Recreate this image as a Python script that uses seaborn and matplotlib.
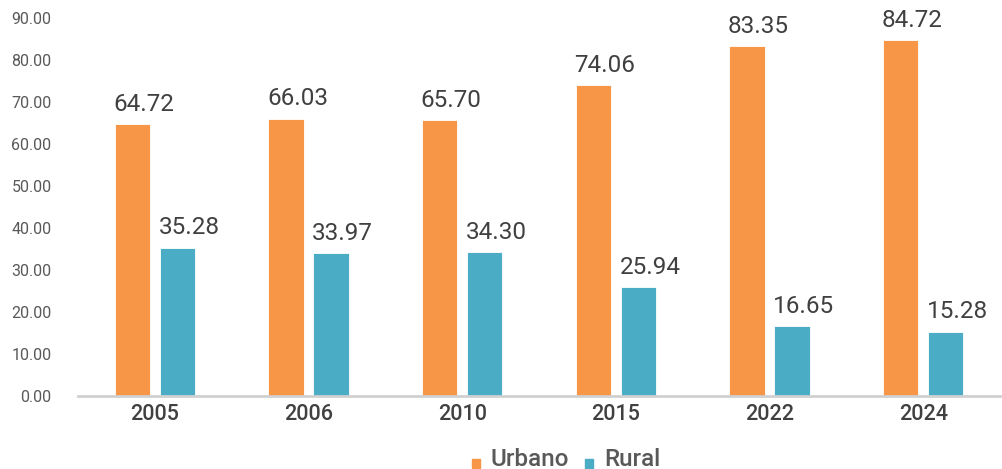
import matplotlib
matplotlib.use("Agg")
import matplotlib.pyplot as plt
import seaborn as sns
import pandas as pd
from matplotlib.patches import Patch, Rectangle
from matplotlib.legend_handler import HandlerPatch

years = ["2005", "2006", "2010", "2015", "2022", "2024"]
urbano = [64.72, 66.03, 65.70, 74.06, 83.35, 84.72]
rural = [35.28, 33.97, 34.30, 25.94, 16.65, 15.28]
series_names = ["Urbano", "Rural"]
colors = ["#F79646", "#4BACC6"]

df = pd.DataFrame({
    "year": years * 2,
    "value": urbano + rural,
    "serie": [series_names[0]] * len(years) + [series_names[1]] * len(years),
})

sns.set_style("white")
plt.rcParams['font.family'] = ['Roboto', 'DejaVu Sans']

fig = plt.figure(figsize=(10.03, 4.69), dpi=100)
ax = fig.add_axes([78/1003, 73/469, 922/1003, (396-18)/469])

sns.barplot(data=df, x="year", y="value", hue="serie", palette=colors,
            saturation=1, width=0.585, gap=0.22, ax=ax, legend=False, errorbar=None,
            edgecolor="white", linewidth=0.6)

for cont in ax.containers:
    for bar in cont:
        h = bar.get_height()
        ax.annotate(f"{h:.2f}", xy=(bar.get_x(), h), xytext=(-1, 6),
                    textcoords="offset points", ha="left", va="bottom",
                    fontsize=17.5, color="#404040")

ax.set_ylim(0, 90)
ax.set_yticks(range(0, 91, 10))
ax.set_yticklabels([f"{v:.2f}" for v in range(0, 91, 10)], fontsize=11.5, color="#595959")
ax.tick_params(axis="y", length=0, pad=19)
ax.tick_params(axis="x", length=0, pad=6, labelsize=15.5, labelcolor="#404040")
for lbl in ax.get_xticklabels():
    lbl.set_fontweight("medium")
ax.set_xlabel("")
ax.set_ylabel("")
for s in ["top", "right", "left"]:
    ax.spines[s].set_visible(False)
ax.spines["bottom"].set_color("#D0D0D0")
ax.spines["bottom"].set_linewidth(2)


def small_square(legend, orig_handle, xdescent, ydescent, width, height, fontsize):
    s = 6.0
    return Rectangle((-xdescent, -ydescent - 1.5), s, s)


handles = [Patch(color=c, label=n) for c, n in zip(colors, series_names)]
leg = fig.legend(handles=handles, loc="center", bbox_to_anchor=(566/1003, 1 - 459/469),
                 ncol=2, frameon=False, fontsize=17.5, handlelength=0.45, handleheight=0.7,
                 handletextpad=0.33, columnspacing=0.66, labelcolor="#595959",
                 handler_map={Patch: HandlerPatch(patch_func=small_square)})
for t in leg.get_texts():
    t.set_fontweight("medium")

fig.savefig("out.png", dpi=100)
